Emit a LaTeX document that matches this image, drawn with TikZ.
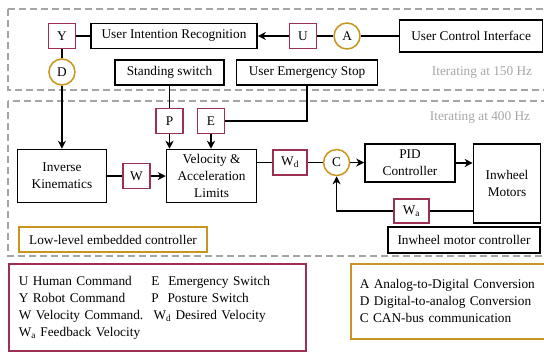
\documentclass[tikz,border=0pt]{standalone}
\usepackage{fontspec}
\setmainfont{Liberation Serif}
\usetikzlibrary{arrows, arrows.meta, positioning, calc}
\definecolor{sigred}{RGB}{155, 48, 80}
\definecolor{convgold}{RGB}{200, 150, 30}
\definecolor{loopgrey}{RGB}{165, 165, 165}
\tikzset{
    block/.style={
        rectangle,
        draw=black,
        line width=1.6pt,
        align=center,
        inner sep=0pt
    },
    signal/.style={
        rectangle,
        draw=sigred,
        line width=1.5pt,
        minimum width=27pt,
        minimum height=25pt,
        inner sep=0pt
    },
    conv/.style={
        circle,
        draw=convgold,
        line width=1.5pt,
        minimum size=26pt,
        inner sep=0pt
    },
    line/.style={
        line width=1.3pt,
        color=black
    },
    arrow/.style={
        line width=1.3pt,
        -{Stealth[length=8pt, width=8pt, inset=2.5pt]},
        color=black
    },
    loopbox/.style={
        draw=loopgrey,
        dash pattern=on 7pt off 4pt,
        line width=1.4pt
    },
    looplabel/.style={
        text=loopgrey
    }
}

\begin{document}
\begin{tikzpicture}[x=1pt, y=-1pt, font=\fontsize{13.3}{17}\selectfont]
        \useasboundingbox (0,0) rectangle (544,352);
        \clip (0,0) rectangle (544,352);

        % --- loop frames ---
        \draw [loopbox] (8,9) rectangle (552,90);
        \draw [loopbox] (8,101) rectangle (552,256);
        \node (rate150) [looplabel] at (482,73) {Iterating at 150 Hz};
        \node (rate400) [looplabel] at (480,118) {Iterating at 400 Hz};

        % --- user side (150 Hz) ---
        \node (uir) [block, minimum width=166pt, minimum height=25pt] at (174,36) {User Intention Recognition};
        \node (ycmd) [signal, left=14pt of uir] {Y};
        \node (ucmd) [signal, right=31pt of uir] {U};
        \node (adc) [conv, right=16pt of ucmd] {A};
        \node (uci) [block, minimum width=143pt, minimum height=32pt, right=38pt of adc] {User Control Interface};
        \node (dac) [conv, below=9pt of ycmd] {D};
        \node (stand) [block, minimum width=109pt, minimum height=25pt] at (169.5,72.5) {Standing switch};
        \node (estop) [block, minimum width=141pt, minimum height=25pt, right=11pt of stand] {User Emergency Stop};

        % --- embedded side (400 Hz) ---
        \node (psw) [signal, below=22pt of stand] {P};
        \node (esw) [signal, right=13pt of psw] {E};
        \node (ik) [block, minimum width=89pt, minimum height=53pt, below=63pt of dac] {Inverse\\Kinematics};
        \node (wcmd) [signal, right=15pt of ik] {W};
        \node (vel) [block, minimum width=90pt, minimum height=53pt, right=15pt of wcmd] {Velocity \&\\Acceleration\\Limits};
        \node (wd) [signal, minimum width=34pt, right=15pt of vel, yshift=13.5pt] {W\textsubscript{d}};
        \node (can) [conv, right=15pt of wd] {C};
        \node (pid) [block, minimum width=90pt, minimum height=38pt] at (410,163) {PID\\Controller};
        \node (mot) [block, minimum width=67pt, minimum height=79pt] at (507,183.5) {Inwheel\\Motors};
        \node (wa) [signal, minimum width=35pt, minimum height=24pt] at (411.5,211) {W\textsubscript{a}};
        \node (imc) [block, minimum width=152pt, minimum height=26pt] at (464,240) {Inwheel motor controller};
        \node (llc) [block, draw=convgold, line width=1.4pt, minimum width=188pt, minimum height=25pt] at (113,239.5) {Low-level embedded controller};

        % --- legends ---
        \node (legsig) [draw=sigred, line width=1.6pt, text width=277pt, inner xsep=10pt, inner ysep=0pt, minimum height=87pt, anchor=north west] at (8,263) {%
            \begin{tabular}{@{}l@{\hspace{8pt}}l@{}}
            U Human Command & E\ \ Emergency Switch \\
            Y Robot Command & P\ \ Posture Switch \\
            W Velocity Command. & \,W\textsubscript{d} Desired Velocity \\
            W\textsubscript{a} Feedback Velocity & \\
            \end{tabular}};
        \node (legconv) [draw=convgold, line width=1.6pt, text width=200pt, inner xsep=9pt, inner ysep=0pt, minimum height=75pt, anchor=north west] at (350,263) {%
            A Analog-to-Digital Conversion\\
            D Digital-to-analog Conversion\\
            C CAN-bus communication};

        % --- connectors ---
        \draw [line] (ycmd) -- (uir);
        \draw [arrow] (ucmd) -- (uir);
        \draw [line] (adc) -- (ucmd);
        \draw [line] (uci) -- (adc);
        \draw [line] (ycmd) -- (dac);
        \draw [arrow] (dac) -- (ik);
        \draw [line] (stand) -- (psw);
        \draw [line] (esw.east) -| (estop.south);
        \draw [arrow] (psw) -- (psw |- vel.north);
        \draw [arrow] (esw) -- (esw |- vel.north);
        \draw [line] (ik) -- (wcmd);
        \draw [arrow] (wcmd) -- (vel);
        \draw [line] (vel.east |- wd.west) -- (wd);
        \draw [line] (wd) -- (can);
        \draw [arrow] (can) -- (can -| pid.west);
        \draw [arrow] (pid) -- (pid -| mot.west);
        \draw [line] (mot.west |- wa.east) -- (wa);
        \draw [arrow] (wa) -| (can);
    \end{tikzpicture}
\end{document}
